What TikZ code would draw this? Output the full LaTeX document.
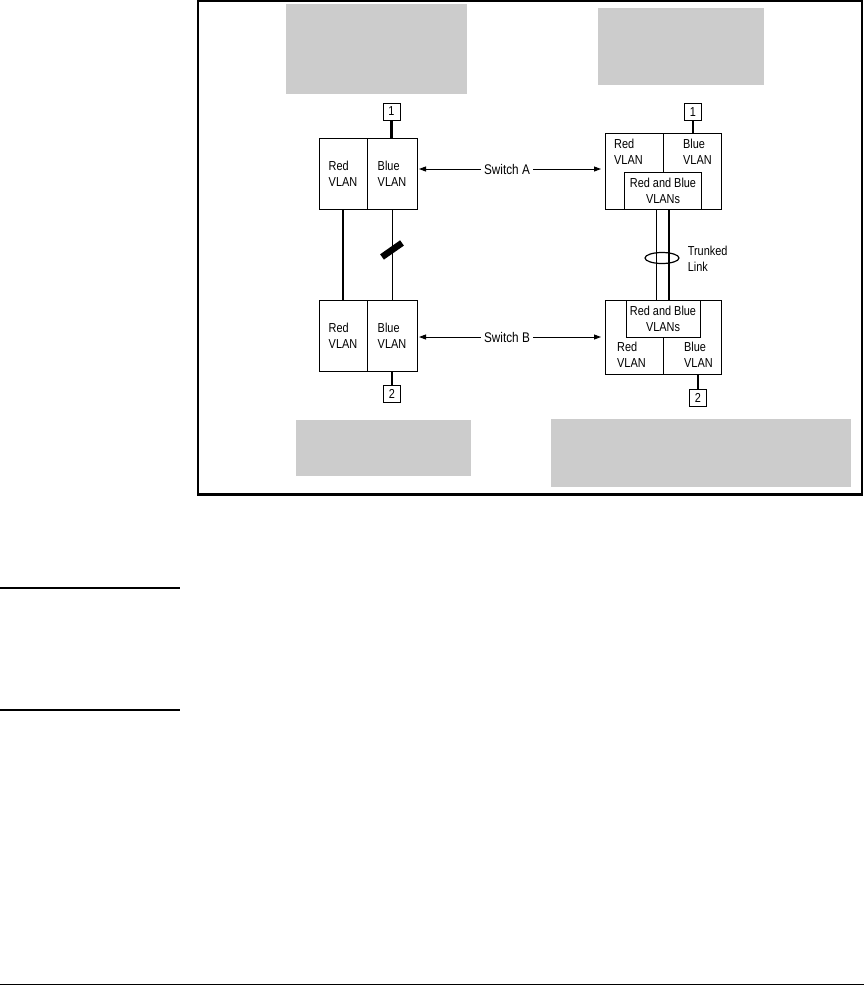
\documentclass[tikz,border=0pt]{standalone}
\usepackage{fontspec}
\setmainfont{Liberation Sans}[FakeStretch=0.84]
\usetikzlibrary{shapes.geometric,calc,arrows.meta,positioning}
\begin{document}
\begin{tikzpicture}[x=1pt, y=-1pt, >={Triangle[length=7pt,width=5pt]}, font=\fontsize{13}{16}\selectfont,
  half/.style={draw, line width=0.9pt, minimum height=71pt, inner sep=0pt, outer sep=0pt, align=left},
  sw/.style={draw, line width=0.9pt, minimum width=116pt, inner sep=0pt, outer sep=0pt},
  shared/.style={draw, line width=0.9pt, minimum height=37pt, inner sep=0pt, outer sep=0pt, align=center},
  port/.style={draw, line width=0.9pt, minimum width=17pt, minimum height=17pt, inner sep=0pt},
  tag/.style={inner sep=0pt, align=left},
  shade/.style={fill=black!20, inner sep=0pt},
  heavy/.style={line width=2.4pt},
  light/.style={line width=0.9pt}]
\useasboundingbox (0,0) rectangle (864,986);
% grey panels
\node[shade, minimum width=181pt, minimum height=90pt] (panelTL) at (376.5,49) {};
\node[shade, minimum width=166pt, minimum height=77pt] (panelTR) at (680.6,46.3) {};
\node[shade, minimum width=175pt, minimum height=56pt] (panelBL) at (383.3,447.8) {};
\node[shade, minimum width=300pt, minimum height=68pt] (panelBR) at (700.8,452.8) {};
\draw[line width=2.5pt] (198,1.2) rectangle (861.8,494.6);
% left pair: separate VLAN links
\node[half, minimum width=48pt] (redA) at (343,173.5) {Red\\VLAN};
\node[half, minimum width=50pt, right=0pt of redA] (blueA) {Blue\\VLAN};
\node[half, minimum width=48pt] (redB) at (343,335.5) {Red\\VLAN};
\node[half, minimum width=50pt, right=0pt of redB] (blueB) {Blue\\VLAN};
\node[port] (portA1) at (391.5,111.5) {1};
\node[port] (portA2) at (392,394) {2};
\draw[heavy] (portA1) -- (portA1 |- blueA.north);
\draw[heavy] (portA2) -- (portA2 |- blueB.south);
\draw[heavy] (redA) -- (redB);
\draw[light] (blueA) -- (blueB);
\coordinate (cut) at ($(blueA.south)!0.45!(blueB.north)$);
\draw[line width=6.5pt] ($(cut)+(-10,7)$) -- ($(cut)+(10,-7)$);
% right pair: trunked link
\node[sw, minimum height=76pt] (swA) at (663,171) {};
\node[shared, minimum width=77pt, anchor=south] (bothA) at (swA.south) {Red and Blue\\VLANs};
\draw[light] (swA.north) -- (bothA.north);
\node[tag, anchor=north west] (redC) at ($(swA.north west)+(9,6)$) {Red\\VLAN};
\node[tag, anchor=north west] (blueC) at ($(swA.north)+(20,6)$) {Blue\\VLAN};
\node[sw, minimum height=74pt] (swB) at (663,337) {};
\node[shared, minimum width=74pt, anchor=north] (bothB) at (swB.north) {Red and Blue\\VLANs};
\draw[light] (bothB.south) -- (swB.south);
\node[tag, anchor=north west] (redD) at ($(bothB.south -| swB.west)+(12,5)$) {Red\\VLAN};
\node[tag, anchor=north west] (blueD) at ($(bothB.south)+(21,5)$) {Blue\\VLAN};
\node[port] (portC1) at (693,111.7) {1};
\node[port] (portC2) at (698,398) {2};
\draw[heavy] (portC1) -- (portC1 |- swA.north);
\draw[heavy] (portC2) -- (portC2 |- swB.south);
\draw[light] ($(bothA.south)+(-7,0)$) -- ($(bothB.north)+(-7,0)$);
\draw[heavy] ($(bothA.south)+(6,0)$) -- ($(bothB.north)+(6,0)$);
\node[ellipse, draw, line width=1.2pt, minimum width=34pt, minimum height=11pt, inner sep=0pt] (ring) at (662,258) {};
\node[tag, anchor=west] (trunkLbl) at ($(ring.east)+(8,1)$) {Trunked\\Link};
% switch labels
\node[font=\fontsize{14}{16}\selectfont, inner sep=3pt] (labA) at (507,169) {Switch A};
\node[font=\fontsize{14}{16}\selectfont, inner sep=3pt] (labB) at (507,337) {Switch B};
\draw[->, light, shorten >=2pt] (labA) -- (labA -| blueA.east);
\draw[->, light, shorten >=4pt] (labA) -- (labA -| swA.west);
\draw[->, light, shorten >=2pt] (labB) -- (labB -| blueB.east);
\draw[->, light, shorten >=4pt] (labB) -- (labB -| swB.west);
% page rules
\draw[line width=1.5pt] (0,588) -- (180,588);
\draw[line width=1.5pt] (0,710) -- (180,710);
\draw[line width=1.5pt] (0,984.5) -- (864,984.5);
\end{tikzpicture}
\end{document}
